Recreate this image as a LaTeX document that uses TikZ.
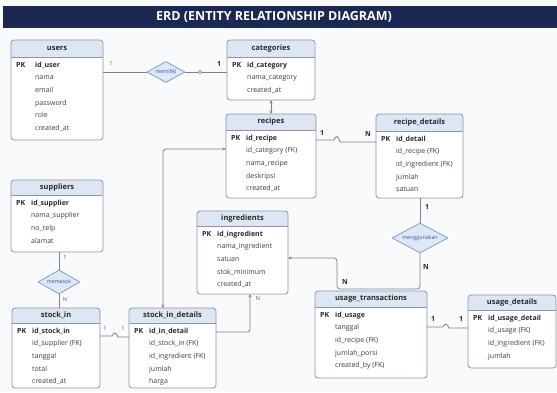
\documentclass[tikz,border=0pt]{standalone}
\usepackage{fontspec}
\setmainfont{Open Sans}
\usetikzlibrary{arrows.meta,shapes.geometric}
\definecolor{navy}{RGB}{27,40,84}
\definecolor{bg}{RGB}{249,250,251}
\definecolor{hdr}{RGB}{221,231,244}
\definecolor{bord}{RGB}{140,150,165}
\definecolor{txt}{RGB}{40,42,48}
\definecolor{ftxt}{RGB}{60,62,70}
\definecolor{dfill}{RGB}{220,232,248}
\definecolor{dbord}{RGB}{120,150,195}
\definecolor{dtxt}{RGB}{50,85,160}
\definecolor{conn}{RGB}{125,130,140}
\tikzset{
  hdrtext/.style={font=\bfseries\fontsize{7.5}{8}\selectfont, text=txt, inner sep=0pt},
  pktext/.style={font=\bfseries\fontsize{7}{8}\selectfont, text=txt, anchor=west, inner sep=0pt, text height=5pt, text depth=1.5pt},
  fieldtext/.style={font=\fontsize{7}{8}\selectfont, text=ftxt, anchor=west, inner sep=0pt, text height=5pt, text depth=1.5pt},
  conn/.style={draw=conn, line width=0.8pt},
  dia/.style={diamond, draw=dbord, fill=dfill, line width=0.7pt, inner sep=0pt},
  dlab/.style={font=\fontsize{5.3}{6}\selectfont, text=dtxt, inner sep=0pt},
  card/.style={font=\bfseries\fontsize{7}{7}\selectfont, text=txt, inner sep=0pt},
  cardl/.style={font=\fontsize{5.5}{6}\selectfont, text=txt!80, inner sep=0pt},
  tip/.style={-{Stealth[length=3.5pt,width=3pt]}},
  tips/.style={{Stealth[length=3.5pt,width=3pt]}-{Stealth[length=3.5pt,width=3pt]}}
}
\def\fo{20}
\newcommand\ent[9]{%
  \pgfmathsetmacro\ew{#4-#2}\pgfmathsetmacro\eh{#5-#3}%
  \node[inner sep=0pt, outer sep=0pt, minimum width=\ew pt, minimum height=\eh pt, anchor=north west] (#1) at (#2,#3) {};
  \begin{scope}\clip (#2,#3) rectangle (#4,#6);
    \fill[hdr, rounded corners=3pt] (#2,#3) rectangle (#4,#5);
  \end{scope}
  \begin{scope}\clip (#2,#6) rectangle (#4,#5);
    \fill[white, rounded corners=3pt] (#2,#3) rectangle (#4,#5);
  \end{scope}
  \draw[bord, line width=0.6pt] (#2,#6) -- (#4,#6);
  \draw[bord, rounded corners=3pt, line width=0.8pt] (#2,#3) rectangle (#4,#5);
  \node[hdrtext] (#1-title) at ({(#2+#4)/2},{(#3+#6)/2}) {#7};
  \node[pktext] (#1-pk) at (#2+5,#6+8.5) {PK};
  \node[pktext] (#1-f0) at (#2+\fo,#6+8.5) {#8};
  \foreach \f [count=\i] in {#9} {
    \node[fieldtext] (#1-f\i) at (#2+\fo,#6+8.5+12.6*\i) {\f};
  }
}
\begin{document}
\begin{tikzpicture}[x=1pt,y=-1pt]
\useasboundingbox (0,0) rectangle (557,392);
\fill[bg] (0,0) rectangle (557,392);
% title bar
\fill[navy] (3,6) rectangle (557,28);
\node[font=\bfseries\fontsize{12.5}{14}\selectfont, text=white, inner sep=0pt] (title) at (274,17) {ERD (ENTITY RELATIONSHIP DIAGRAM)};

% entities
\def\fo{24}
\ent{users}{11}{40}{103}{140}{57}{users}{id\_user}{nama,email,password,role,created\_at}
\def\fo{20}
\ent{categories}{227}{40}{315}{100}{57}{categories}{id\_category}{nama\_category,created\_at}
\ent{recipes}{226}{114}{316}{198}{130}{recipes}{id\_recipe}{id\_category (FK),nama\_recipe,deskripsi,created\_at}
\ent{recipe_details}{376}{114}{463}{198}{131}{recipe\_details}{id\_detail}{id\_recipe (FK),id\_ingredient (FK),jumlah,satuan}
\ent{ingredients}{197}{211}{288}{294}{226}{ingredients}{id\_ingredient}{nama\_ingredient,satuan,stok\_minimum,created\_at}
\ent{suppliers}{11}{180}{103}{252}{195}{suppliers}{id\_supplier}{nama\_supplier,no\_telp,alamat}
\ent{stock_in}{12}{308}{100}{388}{323}{stock\_in}{id\_stock\_in}{id\_supplier (FK),tanggal,total,created\_at}
\ent{stock_in_details}{129}{308}{216}{388}{323}{stock\_in\_details}{id\_in\_detail}{id\_stock\_in (FK),id\_ingredient (FK),jumlah,harga}
\ent{usage_transactions}{315}{291}{427}{378}{307}{usage\_transactions}{id\_usage}{tanggal,id\_recipe (FK),jumlah\_porsi,created\_by (FK)}
\ent{usage_details}{468}{295}{556}{368}{310}{usage\_details}{id\_usage\_detail}{id\_usage (FK),id\_ingredient (FK),jumlah}

% relationship diamonds
\node[dia, minimum width=38pt, minimum height=21pt] (memiliki) at (166,72) {};
\node[dlab] (memiliki-l) at (memiliki) {memiliki};
\node[dia, minimum width=56pt, minimum height=30pt] (menggunakan) at (420,238) {};
\node[dlab] (menggunakan-l) at (menggunakan) {menggunakan};
\node[dia, minimum width=42pt, minimum height=24pt] (memasok) at (59,282) {};
\node[dlab] (memasok-l) at (memasok) {memasok};

% connectors
\draw[conn] (users.east |- memiliki.west) -- (memiliki.west);
\draw[conn] (memiliki.east) -- (categories.west |- memiliki.east);
\node[circle, draw=conn, fill=bg, line width=0.6pt, inner sep=0pt, minimum size=3.5pt] (ring) at (200,72) {};
\draw[conn, tips] (categories.south -| 271,0) -- (recipes.north -| 271,0);
\draw[conn] (recipes.east |- 0,140) -- (334,140) .. controls (336,135) and (338,135) .. (340,142) -- (recipe_details.west |- 0,142);
\draw[conn] (recipe_details.south -| menggunakan.north) -- (menggunakan.north);
\draw[conn, tip, rounded corners=3pt] (menggunakan.south) -- (420,289) -- (337,289) -- (337,258) -- (ingredients.east |- 0,258);
\draw[conn, tip, rounded corners=3pt] (stock_in_details.east |- 0,332) -- (250,332) -- (ingredients.south -| 250,0);
\draw[conn, tips, rounded corners=3pt] (stock_in_details.north -| 163,0) -- (163,149) -- (recipes.west |- 0,149);
\draw[conn] (suppliers.south -| memasok.north) -- (memasok.north);
\draw[conn] (memasok.south) -- (stock_in.north -| memasok.south);
\draw[conn] (stock_in.east |- 0,336) -- (112,336) .. controls (114,332) and (116,332) .. (118,337) -- (stock_in_details.west |- 0,337);
\draw[conn] (usage_transactions.east |- 0,327) -- (443,327) .. controls (445,323) and (447,323) .. (449,328) -- (usage_details.west |- 0,328);

% cardinalities
\node[cardl] (c1) at (111,64) {1};
\node[card] (c2) at (219,64) {1};
\node[card] (c3) at (322,133) {1};
\node[card] (c4) at (368,134) {N};
\node[card] (c5) at (427,207) {1};
\node[card] (c6) at (426,267) {N};
\node[card] (c7) at (345,282) {N};
\node[cardl] (c8) at (258,299) {N};
\node[cardl] (c9) at (65,258) {1};
\node[cardl] (c10) at (65,300) {N};
\node[cardl] (c11) at (105,329) {1};
\node[cardl] (c12) at (123,329) {1};
\node[card] (c13) at (433,319) {1};
\node[card] (c14) at (461,319) {1};
\end{tikzpicture}
\end{document}
